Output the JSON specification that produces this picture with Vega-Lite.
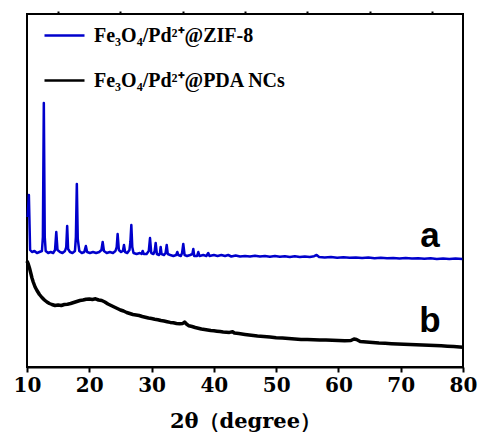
{
  "$schema": "https://vega.github.io/schema/vega-lite/v6.json",
  "width": 436,
  "height": 353,
  "autosize": {"type": "none"},
  "padding": {"left": 27, "top": 14, "right": 20, "bottom": 76},
  "background": "white",
  "config": {"view": {"stroke": "black", "strokeWidth": 2}},
  "datasets": {
    "zif": [
      {"angle":10.1,"counts":150},{"angle":10.3,"counts":172},{"angle":10.5,"counts":117},{"angle":10.8,"counts":115},{"angle":11.2,"counts":116},{"angle":11.6,"counts":114},{"angle":12.0,"counts":115},{"angle":12.4,"counts":116},{"angle":12.55,"counts":130},{"angle":12.7,"counts":264},{"angle":12.85,"counts":130},{"angle":13.0,"counts":116},{"angle":13.4,"counts":114},{"angle":13.8,"counts":115},{"angle":14.2,"counts":114},{"angle":14.5,"counts":117},{"angle":14.7,"counts":135},{"angle":14.9,"counts":117},{"angle":15.3,"counts":115},{"angle":15.7,"counts":114},{"angle":16.1,"counts":116},{"angle":16.3,"counts":120},{"angle":16.45,"counts":141},{"angle":16.6,"counts":118},{"angle":16.9,"counts":115},{"angle":17.3,"counts":114},{"angle":17.7,"counts":116},{"angle":17.85,"counts":130},{"angle":18.0,"counts":183},{"angle":18.15,"counts":128},{"angle":18.4,"counts":116},{"angle":18.8,"counts":114},{"angle":19.2,"counts":115},{"angle":19.45,"counts":121},{"angle":19.65,"counts":115},{"angle":20.1,"counts":114},{"angle":20.6,"counts":115},{"angle":21.1,"counts":114},{"angle":21.6,"counts":115},{"angle":21.95,"counts":117},{"angle":22.15,"counts":125},{"angle":22.35,"counts":116},{"angle":22.8,"counts":114},{"angle":23.3,"counts":115},{"angle":23.8,"counts":114},{"angle":24.2,"counts":116},{"angle":24.4,"counts":120},{"angle":24.55,"counts":133},{"angle":24.75,"counts":117},{"angle":25.1,"counts":115},{"angle":25.4,"counts":116},{"angle":25.57,"counts":122},{"angle":25.75,"counts":115},{"angle":26.1,"counts":114},{"angle":26.45,"counts":117},{"angle":26.6,"counts":125},{"angle":26.75,"counts":142},{"angle":26.9,"counts":120},{"angle":27.1,"counts":114},{"angle":27.6,"counts":113},{"angle":28.1,"counts":114},{"angle":28.4,"counts":113},{"angle":28.57,"counts":116},{"angle":28.75,"counts":113},{"angle":29.2,"counts":113},{"angle":29.55,"counts":116},{"angle":29.75,"counts":129},{"angle":29.95,"counts":114},{"angle":30.3,"counts":113},{"angle":30.5,"counts":116},{"angle":30.66,"counts":124},{"angle":30.85,"counts":113},{"angle":31.2,"counts":112},{"angle":31.35,"counts":114},{"angle":31.46,"counts":120},{"angle":31.6,"counts":113},{"angle":32.0,"counts":112},{"angle":32.25,"counts":114},{"angle":32.43,"counts":122},{"angle":32.6,"counts":113},{"angle":33.0,"counts":112},{"angle":33.5,"counts":111},{"angle":33.95,"counts":112},{"angle":34.13,"counts":115},{"angle":34.3,"counts":112},{"angle":34.7,"counts":111},{"angle":34.9,"counts":114},{"angle":35.09,"counts":123},{"angle":35.3,"counts":112},{"angle":35.7,"counts":111},{"angle":36.2,"counts":112},{"angle":36.55,"counts":113},{"angle":36.7,"counts":118},{"angle":36.85,"counts":111},{"angle":37.3,"counts":111},{"angle":37.5,"counts":115},{"angle":37.7,"counts":111},{"angle":38.3,"counts":112},{"angle":38.8,"counts":111},{"angle":39.1,"counts":114},{"angle":39.3,"counts":111},{"angle":40.0,"counts":112},{"angle":40.6,"counts":111},{"angle":41.2,"counts":112},{"angle":41.8,"counts":111},{"angle":42.3,"counts":112},{"angle":42.8,"counts":110.5},{"angle":43.5,"counts":111.5},{"angle":44.2,"counts":110.5},{"angle":45.0,"counts":111},{"angle":45.8,"counts":110.5},{"angle":46.6,"counts":111.3},{"angle":47.4,"counts":110.4},{"angle":48.2,"counts":111},{"angle":49.0,"counts":110.3},{"angle":49.8,"counts":111},{"angle":50.6,"counts":110.2},{"angle":51.4,"counts":110.8},{"angle":52.2,"counts":110},{"angle":53.0,"counts":110.7},{"angle":53.8,"counts":110},{"angle":54.6,"counts":110.6},{"angle":55.4,"counts":110},{"angle":56.1,"counts":110.8},{"angle":56.5,"counts":112},{"angle":56.9,"counts":110},{"angle":57.8,"counts":109.5},{"angle":58.8,"counts":110},{"angle":59.8,"counts":109.3},{"angle":60.8,"counts":109.8},{"angle":61.8,"counts":109.2},{"angle":62.8,"counts":109.6},{"angle":63.8,"counts":109},{"angle":64.8,"counts":109.5},{"angle":65.8,"counts":108.8},{"angle":66.8,"counts":109.3},{"angle":67.8,"counts":108.7},{"angle":68.8,"counts":109.1},{"angle":69.8,"counts":108.5},{"angle":70.8,"counts":109},{"angle":71.8,"counts":108.4},{"angle":72.8,"counts":108.8},{"angle":73.8,"counts":108.2},{"angle":74.8,"counts":108.7},{"angle":75.8,"counts":108.1},{"angle":76.8,"counts":108.5},{"angle":77.8,"counts":108},{"angle":78.8,"counts":108.4},{"angle":79.9,"counts":108}
    ],
    "pda": [
      {"angle":10.0,"counts":106},{"angle":10.2,"counts":103},{"angle":10.4,"counts":99},{"angle":10.6,"counts":94},{"angle":10.8,"counts":89},{"angle":11.0,"counts":85},{"angle":11.3,"counts":80},{"angle":11.6,"counts":76.5},{"angle":12.0,"counts":72.5},{"angle":12.4,"counts":69.5},{"angle":12.8,"counts":67},{"angle":13.2,"counts":65},{"angle":13.6,"counts":63.5},{"angle":14.0,"counts":62.5},{"angle":14.5,"counts":61.5},{"angle":15.0,"counts":62},{"angle":15.5,"counts":61.5},{"angle":16.0,"counts":62.5},{"angle":16.5,"counts":62.8},{"angle":17.0,"counts":63.5},{"angle":17.5,"counts":64.5},{"angle":18.0,"counts":65.5},{"angle":18.5,"counts":66.5},{"angle":19.0,"counts":67},{"angle":19.5,"counts":67.8},{"angle":20.0,"counts":68},{"angle":20.5,"counts":67.5},{"angle":21.0,"counts":68.2},{"angle":21.5,"counts":67},{"angle":22.0,"counts":66.5},{"angle":22.5,"counts":65},{"angle":23.0,"counts":63},{"angle":23.5,"counts":61.5},{"angle":24.0,"counts":60},{"angle":24.5,"counts":58.5},{"angle":25.0,"counts":57},{"angle":25.5,"counts":56},{"angle":26.0,"counts":54.5},{"angle":26.5,"counts":53.5},{"angle":27.0,"counts":52.5},{"angle":27.5,"counts":52},{"angle":28.0,"counts":51.5},{"angle":28.5,"counts":50.5},{"angle":29.0,"counts":49.8},{"angle":29.5,"counts":49},{"angle":30.0,"counts":48.5},{"angle":30.5,"counts":47.8},{"angle":31.0,"counts":47.3},{"angle":31.5,"counts":46.5},{"angle":32.0,"counts":46},{"angle":32.5,"counts":45.3},{"angle":33.0,"counts":44.6},{"angle":33.5,"counts":44.2},{"angle":34.0,"counts":43.5},{"angle":34.5,"counts":43.3},{"angle":35.0,"counts":43.5},{"angle":35.3,"counts":45},{"angle":35.6,"counts":43},{"angle":36.0,"counts":41.2},{"angle":36.5,"counts":40.5},{"angle":37.0,"counts":39.5},{"angle":37.5,"counts":38.8},{"angle":38.0,"counts":38},{"angle":38.5,"counts":37.5},{"angle":39.0,"counts":37},{"angle":39.5,"counts":36.5},{"angle":40.0,"counts":36.2},{"angle":40.5,"counts":35.8},{"angle":41.0,"counts":35.4},{"angle":41.5,"counts":35},{"angle":42.0,"counts":34.8},{"angle":42.5,"counts":34.6},{"angle":43.0,"counts":35.3},{"angle":43.3,"counts":34},{"angle":44.0,"counts":33.4},{"angle":45.0,"counts":32.6},{"angle":46.0,"counts":31.8},{"angle":47.0,"counts":31},{"angle":48.0,"counts":30.4},{"angle":49.0,"counts":29.9},{"angle":50.0,"counts":29.3},{"angle":51.0,"counts":28.9},{"angle":52.0,"counts":28.4},{"angle":53.0,"counts":28},{"angle":54.0,"counts":27.6},{"angle":55.0,"counts":27.4},{"angle":56.0,"counts":27.2},{"angle":57.0,"counts":27.1},{"angle":58.0,"counts":26.9},{"angle":59.0,"counts":26.8},{"angle":60.0,"counts":26.5},{"angle":61.0,"counts":26.2},{"angle":62.0,"counts":26.5},{"angle":62.5,"counts":28},{"angle":62.9,"counts":27.5},{"angle":63.5,"counts":25.5},{"angle":64.5,"counts":25},{"angle":65.5,"counts":24.5},{"angle":66.5,"counts":24},{"angle":67.5,"counts":23.7},{"angle":68.5,"counts":23.3},{"angle":69.5,"counts":23},{"angle":70.5,"counts":22.7},{"angle":71.5,"counts":22.5},{"angle":72.5,"counts":22.2},{"angle":73.5,"counts":22},{"angle":74.5,"counts":21.8},{"angle":75.5,"counts":21.5},{"angle":76.5,"counts":21.2},{"angle":77.5,"counts":20.8},{"angle":78.5,"counts":20.4},{"angle":79.5,"counts":20},{"angle":80.0,"counts":19.7}
    ],
    "labels": [
      {"label": "a", "angle": 74.7, "counts": 120.3},
      {"label": "b", "angle": 74.7, "counts": 35.3}
    ]
  },
  "layer": [
    {
      "data": {"name": "pda"},
      "mark": {"type": "line", "strokeJoin": "round", "strokeWidth": 3.5},
      "encoding": {
        "x": {"field": "angle", "type": "quantitative", "scale": {"domain": [10, 80], "nice": false, "zero": false},
          "axis": {"values": [10,20,30,40,50,60,70,80], "tickSize": 5, "tickWidth": 2, "tickColor": "black", "domainColor": "black", "domainWidth": 2, "labelFont": "DejaVu Serif", "labelFontWeight": "bold", "labelFontSize": 20, "labelColor": "black", "labelPadding": 3, "labelFlush": false, "labelOverlap": false, "grid": false, "title": "2θ（degree）", "titleFont": "DejaVu Serif", "titleFontWeight": "bold", "titleFontSize": 21, "titleColor": "black", "titlePadding": 15}},
        "y": {"field": "counts", "type": "quantitative", "scale": {"domain": [0, 353], "nice": false}, "axis": null},
        "color": {"datum": "Fe₃O₄/Pd²⁺@PDA NCs", "type": "nominal",
          "scale": {"domain": ["Fe₃O₄/Pd²⁺@ZIF-8", "Fe₃O₄/Pd²⁺@PDA NCs"], "range": ["#0000cc", "#000000"]},
          "legend": {"orient": "none", "legendX": 16, "legendY": 0, "title": null, "symbolType": "stroke", "symbolSize": 1600, "symbolStrokeWidth": 2.5, "labelFont": "Liberation Serif", "labelFontWeight": "bold", "labelFontSize": 20, "labelColor": "black", "labelOffset": 8, "rowPadding": 13, "padding": 0, "labelLimit": 400}}
      }
    },
    {
      "data": {"name": "zif"},
      "mark": {"type": "line", "strokeJoin": "round", "strokeWidth": 2.5},
      "encoding": {
        "x": {"field": "angle", "type": "quantitative", "axis": {"values": [15,25,35,45,55,65,75], "tickSize": 3, "tickWidth": 2, "tickColor": "black", "labels": false, "domain": false, "grid": false, "title": null}},
        "y": {"field": "counts", "type": "quantitative", "axis": null},
        "color": {"datum": "Fe₃O₄/Pd²⁺@ZIF-8", "type": "nominal"}
      }
    },
    {
      "data": {"name": "labels"},
      "mark": {"type": "text", "font": "Liberation Sans", "fontWeight": "bold", "fontSize": 35, "align": "center", "baseline": "alphabetic", "color": "black"},
      "encoding": {
        "x": {"field": "angle", "type": "quantitative", "axis": null},
        "y": {"field": "counts", "type": "quantitative", "axis": null},
        "text": {"field": "label"}
      }
    }
  ],
  "resolve": {"axis": {"x": "independent"}}
}
